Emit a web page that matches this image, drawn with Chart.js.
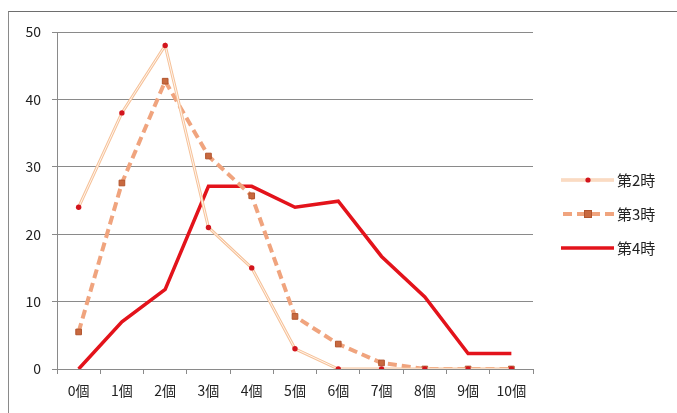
<!DOCTYPE html>
<html>
<head>
<meta charset="utf-8">
<script src="https://cdn.jsdelivr.net/npm/chart.js@4/dist/chart.umd.min.js"></script>
<style>
  html, body { margin: 0; padding: 0; background: #fff; }
  #wrap { position: relative; width: 677px; height: 413px; overflow: hidden; }
  #frame { position: absolute; left: 8px; top: 11px; width: 700px; height: 420px;
           border-left: 1px solid #8a8a8a; border-top: 1px solid #6e6e6e; }
  canvas { position: absolute; left: 0; top: 0; }
</style>
</head>
<body>
<div id="wrap">
  <div id="frame"></div>
  <canvas id="c" width="677" height="413"></canvas>
</div>
<script>
// 個数ごとの人数
const categories = ['0個', '1個', '2個', '3個', '4個', '5個', '6個', '7個', '8個', '9個', '10個'];
const seriesNames = ['第2時', '第3時', '第4時'];
const period2 = [24, 38, 48, 21, 15, 3, 0, 0, 0, 0, 0];
const period3 = [5.5, 27.6, 42.7, 31.6, 25.7, 7.8, 3.7, 0.9, 0, 0, 0];
const period4 = [0, 7, 11.8, 27.1, 27.1, 24, 24.9, 16.7, 10.7, 2.3, 2.3];
const yTicks = [0, 10, 20, 30, 40, 50];

const FONT = '"Noto Sans CJK JP", "Noto Sans", sans-serif';

// 凡例（右側）
const legendPlugin = {
  id: 'sideLegend',
  afterDraw(chart) {
    const ctx = chart.ctx;
    const rows = [
      { y: 180, name: seriesNames[0], kind: 'double' },
      { y: 214, name: seriesNames[1], kind: 'dash' },
      { y: 248, name: seriesNames[2], kind: 'solid' }
    ];
    const x0 = 561, x1 = 614, xm = 588;
    ctx.save();
    rows.forEach(r => {
      ctx.setLineDash([]);
      if (r.kind === 'double') {
        ctx.strokeStyle = '#f6c29a'; ctx.lineWidth = 3;
        ctx.beginPath(); ctx.moveTo(x0, r.y); ctx.lineTo(x1, r.y); ctx.stroke();
        ctx.strokeStyle = '#fff3ea'; ctx.lineWidth = 1;
        ctx.beginPath(); ctx.moveTo(x0, r.y); ctx.lineTo(x1, r.y); ctx.stroke();
        ctx.fillStyle = '#d2141c';
        ctx.beginPath(); ctx.arc(xm, r.y, 2.6, 0, Math.PI * 2); ctx.fill();
      } else if (r.kind === 'dash') {
        ctx.strokeStyle = '#f0a47e'; ctx.lineWidth = 4;
        ctx.setLineDash([9, 5]);
        ctx.beginPath(); ctx.moveTo(x0 + 2, r.y); ctx.lineTo(x1, r.y); ctx.stroke();
        ctx.setLineDash([]);
        ctx.fillStyle = '#c8693f'; ctx.strokeStyle = '#b2552e'; ctx.lineWidth = 1;
        ctx.fillRect(xm - 3.5, r.y - 3.5, 7, 7); ctx.strokeRect(xm - 3.5, r.y - 3.5, 7, 7);
      } else {
        ctx.strokeStyle = '#e3131b'; ctx.lineWidth = 3.5;
        ctx.beginPath(); ctx.moveTo(x0, r.y); ctx.lineTo(x1, r.y); ctx.stroke();
      }
      ctx.fillStyle = '#222';
      ctx.font = '15px ' + FONT;
      ctx.textBaseline = 'middle';
      ctx.textAlign = 'left';
      ctx.fillText(r.name, 617, r.y);
    });
    ctx.restore();
  }
};

new Chart(document.getElementById('c'), {
  type: 'line',
  data: {
    labels: categories,
    datasets: [
      { // 第4時
        label: seriesNames[2], data: period4,
        borderColor: '#e3131b', borderWidth: 3.5, pointRadius: 0,
        tension: 0, order: 4
      },
      { // 第3時
        label: seriesNames[1], data: period3,
        borderColor: '#f0a47e', borderWidth: 4, borderDash: [9, 5],
        pointStyle: 'rect', pointRadius: 4, pointBackgroundColor: '#c8693f',
        pointBorderColor: '#b2552e', pointBorderWidth: 1,
        tension: 0, order: 3
      },
      { // 第2時（外側の線）
        label: seriesNames[0], data: period2,
        borderColor: '#f6c29a', borderWidth: 3, pointRadius: 0,
        tension: 0, order: 2
      },
      { // 第2時（内側の白線）
        label: seriesNames[0] + '-inner', data: period2,
        borderColor: '#fff6ee', borderWidth: 1, pointRadius: 0,
        tension: 0, order: 1
      },
      { // 第2時（マーカー）
        label: seriesNames[0] + '-marker', data: period2,
        showLine: false, pointStyle: 'circle', pointRadius: 2.7,
        pointBackgroundColor: '#d2141c', pointBorderWidth: 0,
        order: 0
      }
    ]
  },
  options: {
    responsive: false,
    animation: false,
    devicePixelRatio: 1,
    layout: { padding: { top: 32, right: 144, bottom: 0, left: 0 } },
    plugins: { legend: { display: false }, tooltip: { enabled: false } },
    scales: {
      x: {
        offset: true,
        grid: { offset: true, drawOnChartArea: false, drawTicks: true, tickLength: 5, color: '#8a8a8a' },
        border: { display: true, color: '#8a8a8a', width: 1 },
        ticks: { color: '#222', font: { family: FONT, size: 14 }, padding: 8, maxRotation: 0, autoSkip: false },
        afterFit(s) { s.height = 44; }
      },
      y: {
        min: 0, max: 50,
        afterBuildTicks(s) { s.ticks = yTicks.map(v => ({ value: v })); },
        grid: { color: '#8a8a8a', lineWidth: 1, drawTicks: true, tickLength: 5 },
        border: { display: true, color: '#8a8a8a', width: 1 },
        ticks: { color: '#222', font: { family: FONT, size: 14 }, padding: 11 },
        afterFit(s) { s.width = 57; }
      }
    }
  },
  plugins: [legendPlugin]
});
</script>
</body>
</html>
